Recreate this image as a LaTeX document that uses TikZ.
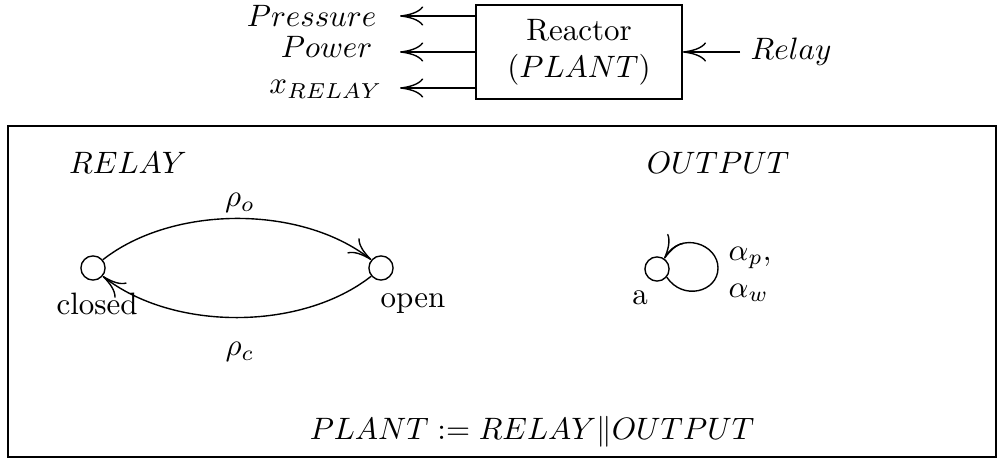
\documentclass[tikz,border=0pt]{standalone}
\usetikzlibrary{arrows.meta}
\begin{document}
\begin{tikzpicture}[x=0.323pt,y=-0.323pt,
  line width=0.45pt,
  arr/.style={-{Computer Modern Rightarrow[length=7.5pt,width=6.2pt]}},
  state/.style={circle,draw,inner sep=0pt,minimum size=7.8pt},
  lbl/.style={inner sep=0pt}]
\useasboundingbox (0,0) rectangle (1007,460);
% top block
\node[draw,minimum width=66.6pt,minimum height=30.4pt,align=center,inner sep=0pt] (box) at (579,52) {Reactor\\($PLANT$)};
\coordinate (t1) at (400,16);
\coordinate (t2) at (400,52);
\coordinate (t3) at (400,88);
\coordinate (rs) at (740,52);
\draw[arr] (box.west|-t1) -- (t1);
\draw[arr] (box.west|-t2) -- (t2);
\draw[arr] (box.west|-t3) -- (t3);
\draw[arr] (rs) -- (box.east|-rs);
\node[lbl,anchor=base east] (pr) at (377,27) {$Pressure$};
\node[lbl,anchor=base east] (pw) at (373,58) {$Power$};
\node[lbl,anchor=base east] (xr) at (383,94) {$x_{RELAY}$};
\node[lbl,anchor=base west] (rl) at (750,60) {$Relay$};
% frame
\draw (8,126) rectangle (996,457);
\node[lbl] (relay) at (128,163) {$RELAY$};
\node[lbl] (output) at (718,163) {$OUTPUT$};
% relay automaton
\node[state] (closed) at (93,268) {};
\node[state] (open) at (381,268) {};
\node[lbl] (cl) at (97,304) {closed};
\node[lbl] (op) at (413,304) {open};
\draw[arr] (closed.40) .. controls +(70,-55) and +(-70,-55) .. (open.140);
\draw[arr] (open.-140) .. controls +(-70,55) and +(70,55) .. (closed.-40);
\node[lbl] (ro) at (240,203) {$\rho_o$};
\node[lbl] (rc) at (240,352) {$\rho_c$};
% output automaton
\node[state] (a) at (657,269) {};
\coordinate (lp) at (718,268);
\node[lbl] (al) at (640,298) {a};
\draw[arr] (a.-40) .. controls +(16,24) and +(0,24) .. (lp) .. controls +(0,-24) and +(16,-28) .. (a.55);
\node[lbl,anchor=west] (ap) at (728,258) {$\alpha_p,$};
\node[lbl,anchor=west] (aw) at (728,293) {$\alpha_w$};
% composition
\node[lbl] (plant) at (532,432) {$PLANT := RELAY\|OUTPUT$};
\end{tikzpicture}
\end{document}
